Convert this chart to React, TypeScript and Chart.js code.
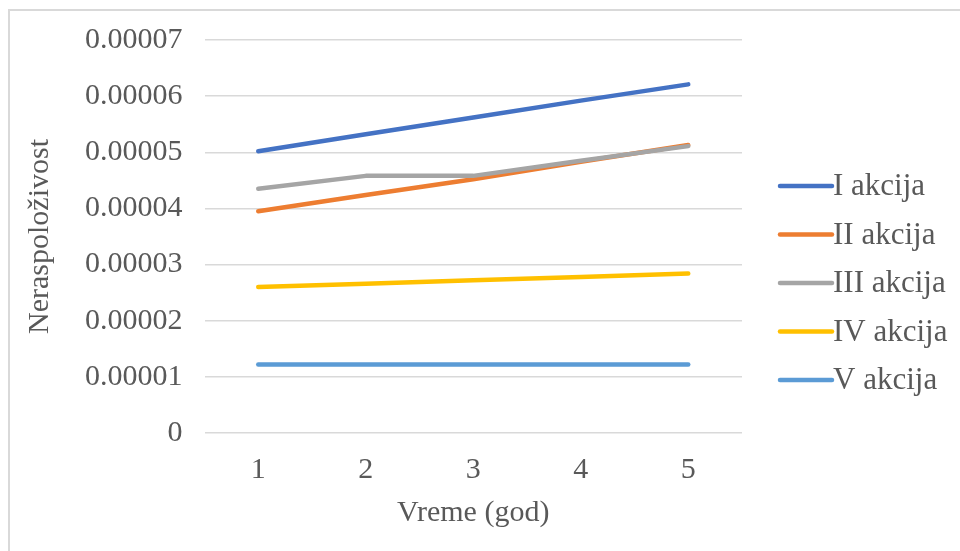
import React, { useEffect, useRef } from "react";
import { Chart, registerables } from "chart.js";

Chart.register(...registerables);

const categories = ["1", "2", "3", "4", "5"];
const seriesNames = ["I akcija", "II akcija", "III akcija", "IV akcija", "V akcija"];
const seriesI = [0.0000502, 0.0000532, 0.0000562, 0.0000592, 0.0000621];
const seriesII = [0.0000395, 0.0000424, 0.0000452, 0.0000483, 0.0000513];
const seriesIII = [0.0000435, 0.0000458, 0.0000458, 0.0000485, 0.0000511];
const seriesIV = [0.000026, 0.0000266, 0.0000272, 0.0000278, 0.0000284];
const seriesV = [0.0000122, 0.0000122, 0.0000122, 0.0000122, 0.0000122];
const colors = ["#4472C4", "#ED7D31", "#A5A5A5", "#FFC000", "#5B9BD5"];
const yTitle = "Neraspoloživost";
const xTitle = "Vreme (god)";

const FONT = "'Liberation Serif', 'Times New Roman', serif";
const FS = 30;
const LEG_FS = 31;
const TEXT = "#595959";

export default function App() {
  const ref = useRef<HTMLCanvasElement | null>(null);
  useEffect(() => {
    if (!ref.current) return;
    const all = [seriesI, seriesII, seriesIII, seriesIV, seriesV];
    const framePlugin = {
      id: "frame",
      beforeDraw(chart: any) {
        const ctx = chart.ctx;
        ctx.save();
        ctx.fillStyle = "#ffffff";
        ctx.fillRect(0, 0, chart.width, chart.height);
        ctx.strokeStyle = "#d9d9d9";
        ctx.lineWidth = 2;
        ctx.beginPath();
        ctx.moveTo(9, chart.height);
        ctx.lineTo(9, 10);
        ctx.lineTo(chart.width, 10);
        ctx.stroke();
        ctx.restore();
      },
    };
    const legendPlugin = {
      id: "customLegend",
      afterDraw(chart: any) {
        const ctx = chart.ctx;
        const ds = chart.data.datasets;
        const x0 = 780;
        const lineW = 52;
        const rowH = 48.5;
        const y0 = 186;
        ctx.save();
        ctx.font = `${LEG_FS}px ${FONT}`;
        ctx.textBaseline = "middle";
        ctx.textAlign = "left";
        ds.forEach((d: any, i: number) => {
          const y = y0 + i * rowH;
          ctx.strokeStyle = d.borderColor;
          ctx.lineWidth = 4.5;
          ctx.lineCap = "round";
          ctx.beginPath();
          ctx.moveTo(x0, y);
          ctx.lineTo(x0 + lineW, y);
          ctx.stroke();
          ctx.fillStyle = TEXT;
          ctx.fillText(d.label, x0 + lineW + 1, y + 1);
        });
        ctx.restore();
      },
    };
    const chart = new Chart(ref.current, {
      type: "line",
      data: {
        labels: categories,
        datasets: all.map((data, i) => ({
          label: seriesNames[i],
          data,
          borderColor: colors[i],
          backgroundColor: colors[i],
          borderWidth: 4.5,
          borderCapStyle: "round" as const,
          borderJoinStyle: "round" as const,
          pointRadius: 0,
          pointHoverRadius: 0,
          tension: 0,
          fill: false,
          order: 5 - i,
        })),
      },
      options: {
        animation: false,
        responsive: false,
        devicePixelRatio: 1,
        layout: { padding: { left: 10, right: 218, top: 24, bottom: 16 } },
        plugins: {
          legend: { display: false },
          tooltip: { enabled: false },
          title: { display: false },
        },
        scales: {
          x: {
            type: "category",
            offset: true,
            grid: { display: false, drawTicks: false },
            border: { display: false },
            ticks: { font: { family: FONT, size: FS }, color: TEXT, padding: 19 },
            title: {
              display: true,
              text: xTitle,
              font: { family: FONT, size: FS },
              color: TEXT,
              padding: { top: -12, bottom: 4 },
            },
          },
          y: {
            min: 0,
            max: 0.00007,
            grid: { color: "#d9d9d9", lineWidth: 1.5, drawTicks: false },
            border: { display: false },
            ticks: {
              stepSize: 0.00001,
              font: { family: FONT, size: FS },
              color: TEXT,
              padding: 22,
              callback: (v: any) => (Number(v) === 0 ? "0" : Number(v).toFixed(5)),
            },
            title: {
              display: true,
              text: yTitle,
              font: { family: FONT, size: FS },
              color: TEXT,
              padding: { top: 12, bottom: 5 },
            },
          },
        },
      },
      plugins: [framePlugin, legendPlugin],
    });
    return () => chart.destroy();
  }, []);
  return (
    <div style={{ position: "fixed", left: 0, top: 0, width: 960, height: 551, background: "#fff" }}>
      <canvas ref={ref} width={960} height={551} style={{ display: "block", width: 960, height: 551 }} />
    </div>
  );
}
